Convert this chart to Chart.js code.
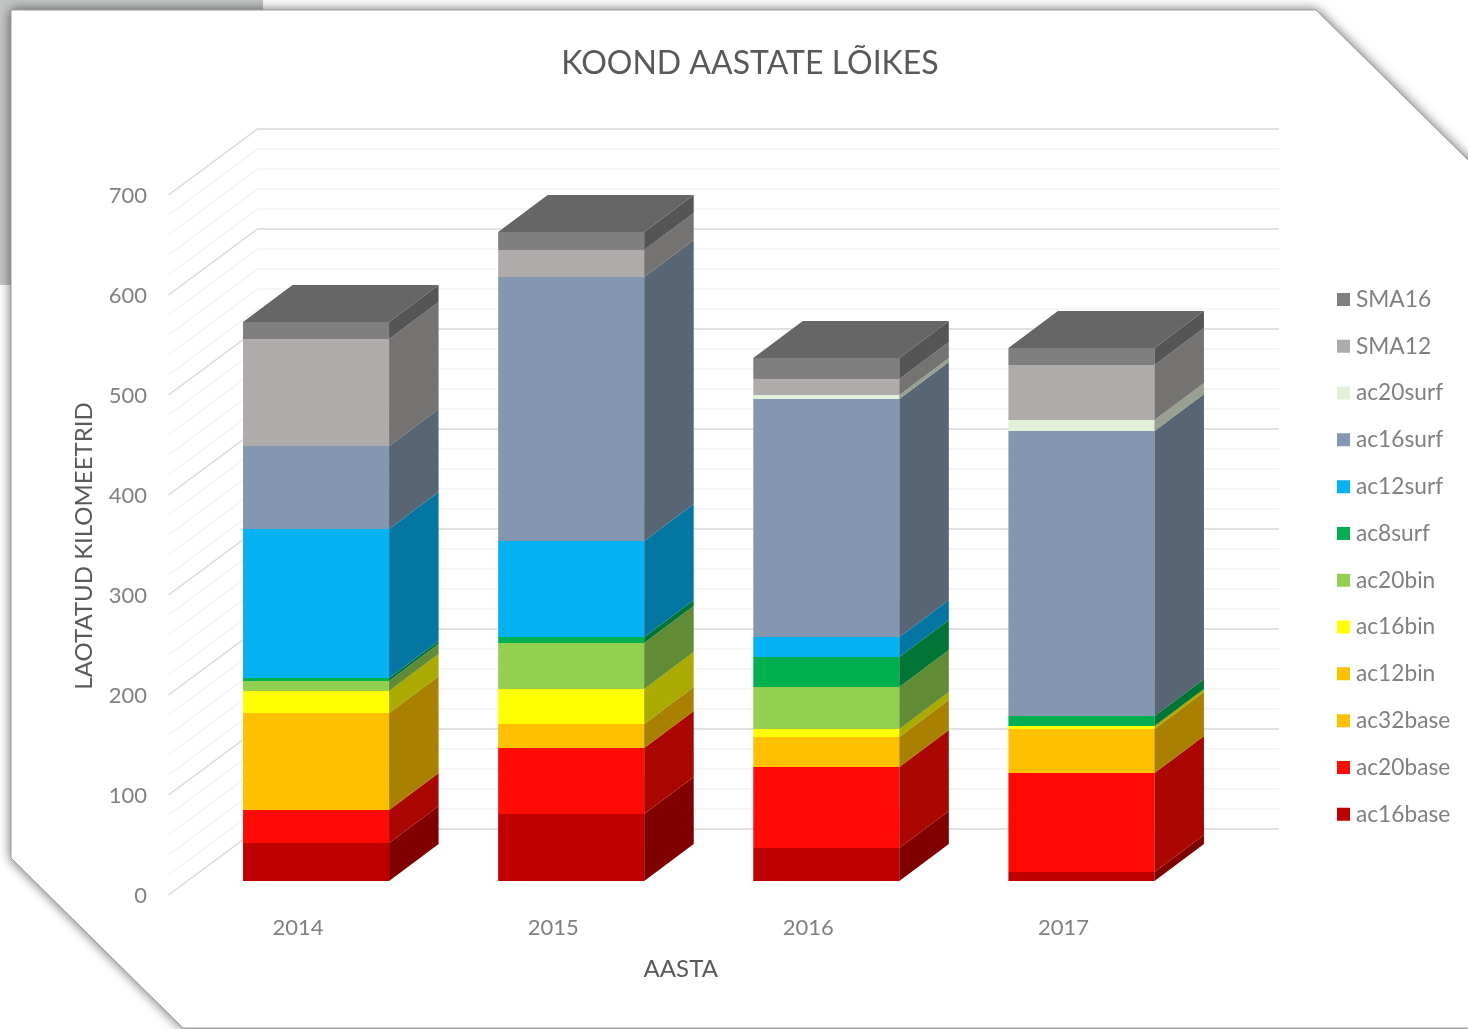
<!DOCTYPE html>
<html>
<head>
<meta charset="utf-8">
<style>
html,body{margin:0;padding:0;background:#fff;overflow:hidden}
#wrap{position:relative;width:1468px;height:1029px;overflow:hidden}
#bg{position:absolute;left:0;top:0;filter:blur(0.4px)}
#c{position:absolute;left:0;top:0;filter:blur(0.75px)}
</style>
<script src="https://cdn.jsdelivr.net/npm/chart.js@4"></script>
</head>
<body>
<div id="wrap">
<svg id="bg" width="1468" height="1029">
  <rect x="0" y="0" width="263" height="12" fill="#c3c6c5"/>
  <rect x="0" y="0" width="12" height="285" fill="#c3c6c5"/>
  <polygon points="11,10 1316,10 1468,160 1490,160 1490,1028 183,1028 11,858" fill="#fff" stroke="#9a9a9a" stroke-width="1" style="filter:drop-shadow(0 0 6px rgba(0,0,0,.6))"/>
</svg>
<canvas id="c" width="1468" height="1029"></canvas>
</div>
<script>
const years = ['2014','2015','2016','2017'];
const yTicks = [0,100,200,300,400,500,600,700];
const seriesNames = ['ac16base','ac20base','ac32base','ac12bin','ac16bin','ac20bin','ac8surf','ac12surf','ac16surf','ac20surf','SMA12','SMA16'];
const seriesColors = ['#C00000','#FF0A05','#FFC000','#FFC000','#FFFF00','#92D050','#00B050','#05B2F3','#8497B0','#E2F0D9','#AFABAB','#7F7F7F'];
const ac16base = [38,67,33,9];
const ac20base = [33,66,81,99];
const ac32base = [97,24,30,44];
const ac12bin  = [0,0,0,0];
const ac16bin  = [22,35,8,3];
const ac20bin  = [10,46,42,0];
const ac8surf  = [3,6,30,10];
const ac12surf = [149,96,20,0];
const ac16surf = [83,264,238,285];
const ac20surf = [0,0,4,11];
const SMA12    = [107,27,16,55];
const SMA16    = [17,18,21,17];
const seriesValues = [ac16base,ac20base,ac32base,ac12bin,ac16bin,ac20bin,ac8surf,ac12surf,ac16surf,ac20surf,SMA12,SMA16];

const FONT = 'Lato, Carlito, "Open Sans", sans-serif';
function shade(hex,f){
  const n=parseInt(hex.slice(1),16);
  return 'rgb('+Math.round((n>>16&255)*f)+','+Math.round((n>>8&255)*f)+','+Math.round((n&255)*f)+')';
}
const WALL_DX=87, WALL_DY=67, BAR_DX=18, BAR_DY=15, DEPTH_X=49.5, DEPTH_Y=37;

const box3d = {
  id:'box3d',
  afterLayout(chart){
    const lg=chart.legend;
    const w=lg.width;
    lg.left=1318.25; lg.right=lg.left+w;
    lg.top=264; lg.bottom=lg.top+lg.height;
    const t=chart.titleBlock;
    t.left=32; t.right=1468; t.width=1436;
  },
  beforeDatasetsDraw(chart){
    const c=chart.ctx, a=chart.chartArea, y=chart.scales.y;
    c.save();
    c.lineWidth=1.5;
    for(let v=0;v<=700;v+=20){
      const py=y.getPixelForValue(v);
      c.strokeStyle=(v%100===0)?'#d9d9d9':'#f2f2f2';
      c.beginPath();
      c.moveTo(a.left-2,py-1);
      c.lineTo(a.left+WALL_DX,py-WALL_DY);
      c.lineTo(a.right+WALL_DX+1,py-WALL_DY);
      c.stroke();
    }
    c.restore();
    c.save();
    c.translate(BAR_DX,-BAR_DY);
  },
  afterDatasetsDraw(chart){
    const c=chart.ctx;
    const n=chart.data.datasets.length;
    years.forEach((_,i)=>{
      let last=null,lastColor=null;
      for(let d=0;d<n;d++){
        const val=chart.data.datasets[d].data[i];
        if(!val) continue;
        const el=chart.getDatasetMeta(d).data[i];
        const col=seriesColors[d];
        const rx=el.x+el.width/2;
        c.fillStyle=shade(col,0.667);
        c.beginPath();
        c.moveTo(rx,el.y);
        c.lineTo(rx+DEPTH_X,el.y-DEPTH_Y);
        c.lineTo(rx+DEPTH_X,el.base-DEPTH_Y);
        c.lineTo(rx,el.base);
        c.closePath();
        c.fill();
        last=el;lastColor=col;
      }
      if(last){
        const lx=last.x-last.width/2, rx=last.x+last.width/2;
        c.fillStyle=shade(lastColor,0.8);
        c.beginPath();
        c.moveTo(lx,last.y);
        c.lineTo(lx+DEPTH_X,last.y-DEPTH_Y);
        c.lineTo(rx+DEPTH_X,last.y-DEPTH_Y);
        c.lineTo(rx,last.y);
        c.closePath();
        c.fill();
      }
    });
    c.restore();
  }
};

new Chart(document.getElementById('c'),{
  type:'bar',
  data:{
    labels:years,
    datasets:seriesNames.map((name,i)=>({
      label:name,
      data:seriesValues[i],
      backgroundColor:seriesColors[i],
      borderWidth:0,
      clip:false
    }))
  },
  plugins:[box3d],
  options:{
    responsive:false,
    animation:false,
    layout:{padding:{left:0,right:277,top:0,bottom:0},autoPadding:false},
    datasets:{bar:{categoryPercentage:1,barPercentage:0.5725}},
    plugins:{
      tooltip:{enabled:false},
      title:{
        display:true,
        text:'KOOND AASTATE LÕIKES',
        color:'#595959',
        font:{family:FONT,size:32,weight:'normal',lineHeight:1.2},
        padding:{top:44.8,bottom:112.8}
      },
      legend:{
        position:'chartArea',
        align:'start',
        reverse:true,
        labels:{
          usePointStyle:true,
          pointStyle:'rect',
          boxWidth:2.3,
          boxHeight:13,
          padding:24.1,
          color:'#808080',
          font:{family:FONT,size:22.7}
        }
      }
    },
    scales:{
      x:{
        stacked:true,
        grid:{display:false},
        border:{display:false},
        afterFit(s){s.height=133;},
        ticks:{color:'#808080',padding:11,font:{family:FONT,size:22},maxRotation:0},
        title:{display:true,text:'AASTA',color:'#595959',font:{family:FONT,size:24,lineHeight:1.2},padding:{top:0,bottom:45.6}}
      },
      y:{
        stacked:true,
        min:yTicks[0],
        max:yTicks[yTicks.length-1],
        afterFit(s){s.width=170.5;},
        afterBuildTicks(s){s.ticks=yTicks.map(v=>({value:v}));},
        grid:{display:false},
        border:{display:false},
        ticks:{color:'#808080',padding:15.5,font:{family:FONT,size:22}},
        title:{display:true,text:'LAOTATUD KILOMEETRID',color:'#595959',font:{family:FONT,size:24,lineHeight:1.2},padding:{top:69.6,bottom:0}}
      }
    }
  }
});
</script>
</body>
</html>
